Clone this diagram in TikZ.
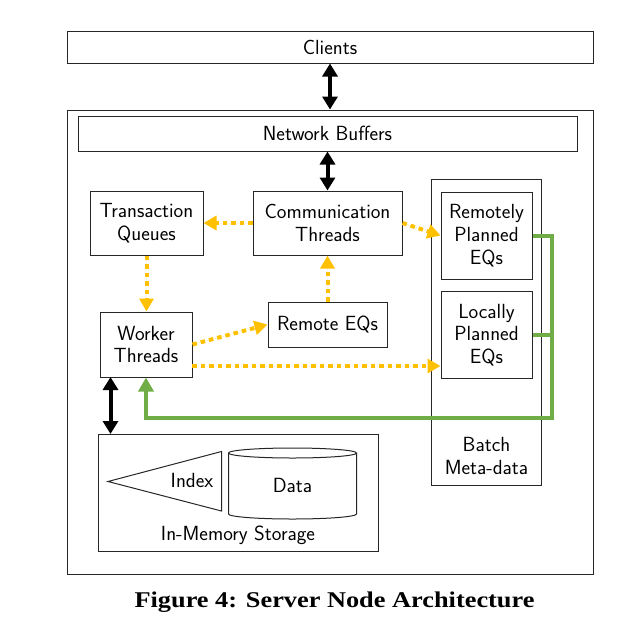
\documentclass[tikz,border=0pt]{standalone}
\usepackage{fontspec}
\newfontfamily\capfont[FakeStretch=1.17]{Liberation Serif}
\usetikzlibrary{arrows.meta}
\definecolor{ylw}{HTML}{FFC000}
\definecolor{grn}{HTML}{70AD47}
\begin{document}
\begin{tikzpicture}[x=1pt,y=-1pt,
  font=\sffamily\fontsize{20.5}{22.8}\selectfont,
  box/.style={draw=black!85, line width=1pt, align=center, inner sep=0pt},
  bigarrow/.style={line width=4pt, {Triangle[length=13pt,width=15pt]}-{Triangle[length=13pt,width=15pt]}},
  yarrow/.style={draw=ylw, line width=4pt, dash pattern=on 4.5pt off 4pt, -{Triangle[length=13pt,width=14pt]}, fill=ylw},
  gline/.style={draw=grn, line width=4pt}
]
\useasboundingbox (0,0) rectangle (640,635);
% boxes
\node[box, minimum width=526pt, minimum height=32pt] (clients) at (330,47) {Clients};
\node[box, minimum width=526pt, minimum height=464pt] (srv) at (330,342) {};
\node[box, minimum width=499pt, minimum height=35pt] (nb) at (327.5,133.5) {Network Buffers};
\node[box, minimum width=113pt, minimum height=64pt] (tq) at (146.5,223) {Transaction\\Queues};
\node[box, minimum width=149pt, minimum height=64pt] (comm) at (327.5,223) {Communication\\Threads};
\node[box, minimum width=110pt, minimum height=306pt] (batch) at (486.5,332) {};
\node[align=center, inner sep=0pt] (batchlbl) at (486.5,456) {Batch\\Meta-data};
\node[box, minimum width=91pt, minimum height=87pt] (rpe) at (486.5,235.5) {Remotely\\Planned\\EQs};
\node[box, minimum width=91pt, minimum height=87pt] (lpe) at (486.5,335) {Locally\\Planned\\EQs};
\node[box, minimum width=92pt, minimum height=65pt] (wt) at (146,344.5) {Worker\\Threads};
\node[box, minimum width=119pt, minimum height=45pt] (req) at (327.5,324.5) {Remote EQs};
\node[box, minimum width=280pt, minimum height=117pt] (stor) at (238,493) {};
\node[inner sep=0pt] (storlbl) at (238,535) {In-Memory Storage};
% index triangle
\draw[draw=black!85, line width=1pt] (108,481.5) -- (221.5,451.5) -- (221.5,511) -- cycle;
\node[inner sep=0pt] (idx) at (192,480) {Index};
% data cylinder
\draw[draw=black!85, line width=1pt] (292.5,453) ellipse[x radius=64pt, y radius=5pt];
\draw[draw=black!85, line width=1pt] (228.5,453) -- (228.5,514) arc[start angle=180, end angle=360, x radius=64pt, y radius=5pt] -- (356.5,453);
\node[inner sep=0pt] (data) at (292.5,485) {Data};
% black arrows
\draw[bigarrow] (clients.south) -- (clients.south |- srv.north);
\draw[bigarrow] (comm.north |- nb.south) -- (comm.north);
\coordinate (w1) at (110.5,377);
\draw[bigarrow] (w1) -- (w1 |- stor.north);
% yellow arrows
\draw[yarrow] (comm.west) -- (tq.east);
\draw[yarrow] (tq.south) -- (tq.south |- wt.north);
\draw[yarrow] (req.north) -- (comm.south);
\draw[yarrow] (wt.east) -- (req.west);
\coordinate (w2) at (192,366);
\draw[yarrow] (w2) -- (lpe.west |- w2);
\draw[yarrow] (comm.east) -- (rpe.west);
% green
\coordinate (g1) at (552,417.5);
\draw[gline] (lpe.east) -- (lpe.east -| g1);
\draw[gline, -{Triangle[length=14pt,width=15pt]}] (rpe.east) -| (g1) -| (wt.south);
% caption
\node[inner sep=0pt] (cap) at (334.5,602) {\capfont\bfseries\fontsize{22.5}{26}\selectfont Figure 4: Server Node Architecture};
\end{tikzpicture}
\end{document}
